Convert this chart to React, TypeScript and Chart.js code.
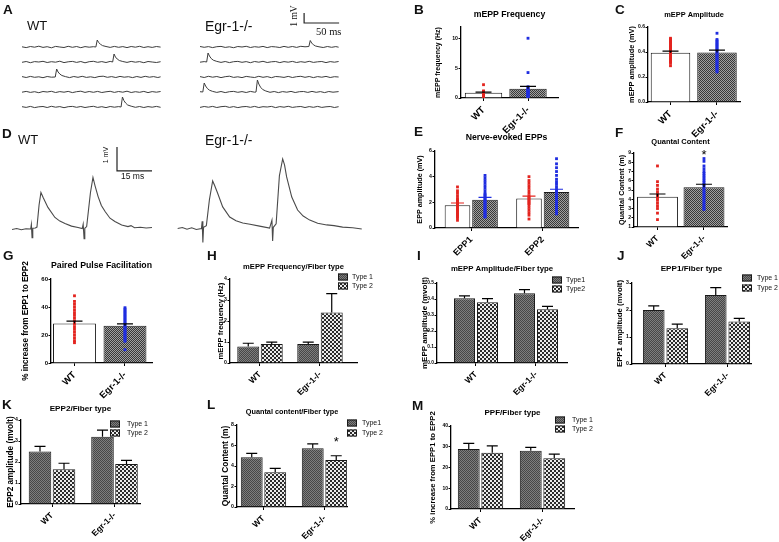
import React, { useEffect, useRef } from 'react';
import { Chart, registerables } from 'chart.js';

Chart.register(...registerables);

const SANS = "'Liberation Sans', Arial, Helvetica, sans-serif";
const SERIF = "'Liberation Serif', 'Times New Roman', serif";

// ======================= DATA =======================
const genotypes = ['WT', 'Egr-1-/-'];
const eppLabels = ['EPP1', 'EPP2'];
const legendTypeSpaced = ['Type 1', 'Type 2'];
const legendTypeCompact = ['Type1', 'Type2'];
const legendTypeMixed = ['Type1', 'Type 2'];

// ---- A: spontaneous mEPP traces (time ms, mV) ----
const aWT1: [number, number][] = [[0,0.02],[6,-0.06],[12,0.05],[18,-0.02],[24,0.08],[30,-0.04],[36,0.03],[42,-0.08],[48,0.06],[54,0.0],[60,-0.05],[66,0.07],[72,-0.03],[78,0.05],[84,-0.07],[90,0.04],[96,-0.02],[102,0.03],[105.5,0.0],[107.5,0.7],[109.5,0.45],[112,0.28],[115,0.14],[120,0.05],[126,-0.04],[132,0.06],[138,-0.03],[144,0.04],[150,-0.06],[156,0.05],[162,-0.02],[168,0.07],[174,-0.05],[180,0.03],[186,-0.04],[192,0.05],[198,-0.01]];
const aWT2: [number, number][] = [[0,-0.03],[6,0.05],[12,-0.07],[18,0.04],[24,0.0],[30,0.07],[36,-0.05],[42,0.03],[48,-0.02],[54,0.08],[60,-0.06],[66,0.02],[72,0.06],[78,-0.04],[84,0.05],[90,-0.08],[96,0.03],[102,0.07],[108,-0.03],[114,0.04],[120,-0.05],[126,0.06],[129.5,0.0],[131.5,0.8],[133.5,0.5],[136,0.3],[139,0.15],[144,0.05],[150,-0.04],[156,0.06],[162,-0.02],[168,0.04],[174,-0.07],[180,0.05],[186,0.0],[192,-0.05],[198,0.03]];
const aWT3: [number, number][] = [[0,0.04],[6,-0.05],[12,0.06],[18,-0.03],[24,0.02],[30,-0.07],[36,0.05],[42,-0.02],[47.5,0.0],[49.5,0.8],[51.5,0.5],[54,0.3],[57,0.15],[62,0.04],[68,-0.06],[74,0.05],[80,-0.03],[86,0.07],[92,-0.04],[98,0.02],[104,-0.06],[110,0.05],[116,0.08],[122,-0.03],[128,0.04],[134,-0.05],[140,0.06],[146,-0.02],[152,0.03],[158,-0.06],[164,0.05],[170,-0.04],[176,0.07],[182,-0.02],[188,0.04],[194,-0.05],[198,0.02]];
const aWT4: [number, number][] = [[0,-0.02],[6,0.06],[12,-0.04],[18,0.03],[24,-0.07],[30,0.05],[36,0.0],[42,0.07],[48,-0.05],[54,0.04],[60,-0.02],[66,0.06],[72,-0.06],[78,0.03],[84,0.08],[90,-0.04],[96,0.05],[102,-0.03],[108,0.06],[114,-0.05],[120,0.02],[126,0.07],[132,-0.04],[138,0.05],[144,-0.02],[150,0.08],[156,-0.05],[162,0.03],[168,-0.03],[174,0.06],[180,-0.06],[186,0.04],[192,-0.02],[198,0.05]];
const aWT5: [number, number][] = [[0,0.03],[6,-0.04],[12,0.06],[18,-0.06],[24,0.02],[30,0.05],[36,-0.05],[42,0.07],[48,-0.02],[54,0.04],[60,-0.07],[66,0.03],[72,0.06],[78,-0.03],[84,0.05],[90,-0.05],[96,0.02],[102,0.07],[108,-0.04],[114,0.03],[120,-0.06],[126,0.05],[132,-0.02],[138,0.04],[141.5,0.0],[143.5,1.0],[145.5,0.65],[148,0.4],[151,0.2],[156,0.08],[162,-0.03],[168,0.05],[174,-0.05],[180,0.04],[186,-0.02],[192,0.06],[198,-0.03]];
const aKO1: [number, number][] = [[0,0.05],[6,-0.03],[12,0.04],[18,-0.06],[24,0.03],[30,0.06],[36,-0.04],[42,0.02],[48,-0.07],[54,0.05],[60,0.0],[66,0.07],[72,-0.05],[78,0.03],[84,-0.02],[90,0.06],[96,-0.06],[102,0.04],[108,0.01],[114,-0.05],[120,0.06],[126,-0.03],[132,0.05],[138,-0.04],[144,0.07],[150,0.02],[155.5,0.05],[157.5,0.65],[159.5,0.4],[162,0.22],[165,0.1],[170,0.02],[176,-0.05],[182,0.05],[188,-0.03],[194,0.04],[198,-0.02]];
const aKO2: [number, number][] = [[0,-0.02],[6,0.04],[9.5,0.0],[11.5,0.9],[13.5,0.6],[16,0.35],[19,0.18],[24,0.06],[30,-0.04],[36,0.05],[42,-0.06],[48,0.03],[54,0.06],[60,-0.03],[66,0.04],[72,-0.07],[78,0.05],[84,-0.02],[90,0.07],[96,-0.05],[102,0.02],[108,0.05],[114,-0.06],[120,0.04],[126,-0.02],[132,0.06],[138,-0.05],[144,0.03],[150,-0.03],[156,0.07],[162,-0.04],[168,0.02],[174,0.05],[180,-0.06],[186,0.04],[192,-0.02],[198,0.05]];
const aKO3: [number, number][] = [[0,0.04],[6,-0.05],[12,0.07],[18,-0.02],[24,0.05],[30,-0.06],[36,0.03],[42,0.08],[48,-0.04],[54,0.02],[60,-0.06],[66,0.06],[72,0.0],[78,-0.05],[84,0.07],[90,-0.03],[96,0.04],[102,-0.07],[108,0.05],[114,0.02],[120,-0.04],[126,0.06],[132,-0.05],[138,0.03],[144,0.07],[150,-0.03],[156,0.05],[162,-0.06],[168,0.04],[174,-0.02],[180,0.06],[186,-0.05],[192,0.03],[198,0.0]];
const aKO4: [number, number][] = [[0,0.03],[4,0.0],[6,0.9],[8,0.6],[10.5,0.35],[13.5,0.18],[18,0.06],[24,-0.04],[30,0.05],[36,-0.06],[42,0.03],[48,0.06],[54,-0.03],[60,0.04],[66,-0.05],[72,0.06],[78,-0.02],[80,0.0],[82,1.2],[84,0.8],[86.5,0.48],[89.5,0.25],[94,0.1],[100,-0.03],[106,0.05],[112,-0.06],[118,0.04],[124,-0.02],[130,0.06],[136,-0.05],[142,0.03],[148,0.05],[154,-0.04],[160,0.06],[166,-0.03],[172,0.04],[178,-0.06],[184,0.05],[190,-0.02],[198,0.04]];
const aKO5: [number, number][] = [[0,-0.04],[6,0.05],[12,-0.02],[18,0.06],[24,-0.05],[30,0.03],[36,0.07],[42,-0.04],[48,0.04],[54,-0.06],[60,0.02],[66,0.05],[72,-0.03],[78,0.06],[84,-0.05],[90,0.03],[96,0.0],[102,0.06],[108,-0.06],[114,0.04],[120,-0.02],[126,0.07],[132,-0.04],[138,0.02],[144,0.05],[150,-0.05],[156,0.04],[162,-0.03],[168,0.06],[174,-0.04],[180,0.02],[186,0.05],[192,-0.05],[198,0.03]];
const scaleBarA = { ms: 50, mV: 1 };

// ---- D: nerve-evoked paired EPP traces (time ms, mV) ----
const dWT: [number, number][] = [[0,-0.02],[2,0.02],[4,-0.03],[6,0.01],[8,0],[8.3,0.19],[8.6,-0.36],[8.9,0.03],[10,0.04],[10.7,0.08],[11.6,1.0],[12.4,1.52],[13.4,1.3],[15.4,0.9],[18.4,0.48],[20.5,0.33],[22.7,0.23],[25.5,0.12],[28.3,0.06],[30.1,0.02],[30.5,0.2],[30.9,-0.4],[31.2,0.03],[32,0.1],[33.6,1.5],[34.7,2.15],[35.6,1.8],[36.9,1.35],[38.3,0.98],[39.9,0.73],[42,0.45],[44.1,0.31],[47,0.17],[49.7,0.1],[51,0.14],[52.5,0.05],[55,0.07],[57.5,0.04],[60,0.06]];
const dKO: [number, number][] = [[0,0],[2,0.04],[4,-0.03],[6,0.03],[8,-0.04],[10.2,0],[10.5,0.3],[10.8,-0.58],[11.1,0.05],[12.3,0.12],[13.6,1.2],[15,1.98],[15.8,1.8],[17.1,1.48],[19.3,0.9],[22.3,0.48],[25,0.32],[27.9,0.23],[31,0.18],[35.1,0.1],[39.4,0.02],[40.4,0.35],[40.7,-0.52],[41,0.05],[42.2,0.2],[43.6,2.2],[45,2.9],[45.8,2.65],[46.7,2.15],[48.9,1.31],[51.4,0.77],[53.8,0.52],[56.6,0.35],[60,0.22],[63.9,0.15],[67,0.12],[70.7,0.06],[75,0.03],[78.9,-0.02]];
const scaleBarD = { ms: 15, mV: 1 };

// ---- B: mEPP frequency (Hz) ----
const bMean = [0.9, 1.58];
const bSem = [0.1, 0.4];
const bPtsWT = [2.25, 1.2, 1.1, 1.0, 0.9, 0.8, 0.7, 0.6, 0.5, 0.4, 0.3, 0.2];
const bPtsKO = [10.1, 4.3, 1.9, 1.7, 1.55, 1.4, 1.3, 1.2, 1.1, 1.0, 0.9, 0.8, 0.7, 0.6, 0.5, 0.4, 0.3, 0.2, 0.1];

// ---- C: mEPP amplitude (mV) ----
const cMean = [0.394, 0.397];
const cSem = [0.013, 0.018];
const cPtsWT = [0.51, 0.5, 0.49, 0.48, 0.47, 0.46, 0.45, 0.44, 0.43, 0.42, 0.41, 0.4, 0.39, 0.38, 0.37, 0.36, 0.35, 0.34, 0.33, 0.32, 0.31, 0.29];
const cPtsKO = [0.55, 0.5, 0.49, 0.48, 0.47, 0.46, 0.45, 0.44, 0.43, 0.42, 0.41, 0.4, 0.39, 0.38, 0.37, 0.36, 0.35, 0.34, 0.33, 0.32, 0.31, 0.3, 0.29, 0.28, 0.27, 0.26, 0.25, 0.24];

// ---- E: nerve-evoked EPP amplitude (mV) ----
const eMeanWT = [1.78, 2.3];
const eSemWT = [0.17, 0.18];
const eMeanKO = [2.2, 2.8];
const eSemKO = [0.18, 0.22];
const ePtsWT1 = [3.2, 2.9, 2.7, 2.5, 2.3, 2.2, 2.1, 2.0, 1.9, 1.8, 1.7, 1.6, 1.5, 1.4, 1.3, 1.2, 1.1, 1.0, 0.9, 0.8, 0.6];
const ePtsKO1 = [4.1, 3.9, 3.7, 3.5, 3.3, 3.1, 2.9, 2.7, 2.6, 2.5, 2.4, 2.3, 2.2, 2.1, 2.0, 1.9, 1.8, 1.7, 1.6, 1.5, 1.4, 1.3, 1.2, 1.1, 1.0, 0.9, 0.85];
const ePtsWT2 = [4.0, 3.7, 3.5, 3.3, 3.1, 2.9, 2.7, 2.5, 2.4, 2.3, 2.2, 2.1, 2.0, 1.9, 1.8, 1.6, 1.4, 1.2, 1.0, 0.7];
const ePtsKO2 = [5.4, 5.0, 4.7, 4.4, 4.1, 3.8, 3.6, 3.4, 3.2, 3.0, 2.9, 2.8, 2.7, 2.6, 2.5, 2.4, 2.3, 2.2, 2.1, 2.0, 1.9, 1.8, 1.7, 1.6, 1.5, 1.4, 1.3, 1.2, 1.1];

// ---- F: quantal content (m) ----
const fMean = [4.28, 5.29];
const fSem = [0.29, 0.33];
const fPtsWT = [7.6, 5.9, 5.5, 5.1, 4.8, 4.5, 4.3, 4.1, 3.9, 3.6, 3.3, 3.0, 2.5, 1.8];
const fPtsKO = [8.4, 8.1, 7.6, 7.3, 7.0, 6.8, 6.6, 6.4, 6.2, 6.0, 5.8, 5.6, 5.4, 5.2, 5.0, 4.8, 4.6, 4.4, 4.2, 4.0, 3.8, 3.6, 3.4, 3.2, 3.0, 2.9];
const fSignificance = [{ group: 1, y: 9.1 }];

// ---- G: paired pulse facilitation (%) ----
const gMean = [28.3, 26.6];
const gSem = [1.6, 1.3];
const gPtsWT = [48, 44, 42, 40, 38, 36, 34, 32, 30, 28, 26, 24, 22, 20, 18, 16, 14.5];
const gPtsKO = [39.5, 38.5, 37.5, 36.5, 35.5, 34.5, 33.5, 32.5, 31.5, 30.5, 29.5, 28.5, 27.5, 26.5, 25.5, 24.5, 23.5, 22.5, 21.5, 20.5, 19.5, 18.5, 17.5, 16.5, 15.5, 9.5];

// ---- H-M: per fiber type ----
const hType1 = [0.78, 0.9];
const hType1Sem = [0.16, 0.09];
const hType2 = [0.9, 2.4];
const hType2Sem = [0.09, 0.9];

const iType1 = [0.404, 0.436];
const iType1Sem = [0.016, 0.022];
const iType2 = [0.379, 0.336];
const iType2Sem = [0.023, 0.018];

const jType1 = [2.0, 2.56];
const jType1Sem = [0.15, 0.27];
const jType2 = [1.32, 1.57];
const jType2Sem = [0.16, 0.12];

const kType1 = [2.5, 3.2];
const kType1Sem = [0.24, 0.32];
const kType2 = [1.65, 1.9];
const kType2Sem = [0.29, 0.18];

const lType1 = [4.85, 5.72];
const lType1Sem = [0.39, 0.43];
const lType2 = [3.38, 4.59];
const lType2Sem = [0.39, 0.41];
const lSignificance = [{ group: 1, series: 1, y: 6.7 }];

const mType1 = [28.9, 28.1];
const mType1Sem = [2.7, 1.6];
const mType2 = [27.1, 24.4];
const mType2Sem = [3.3, 2.0];

// ======================= STYLE HELPERS =======================
const RED = '#e3241f';
const BLUE = '#1f2de0';

function makePattern(kind: string): any {
  if (kind === 'white') return '#ffffff';
  const c = document.createElement('canvas');
  const ctx = c.getContext('2d')!;
  if (kind === 'type2') {
    c.width = 4; c.height = 4;
    ctx.fillStyle = '#ececec'; ctx.fillRect(0, 0, 4, 4);
    ctx.fillStyle = '#2b2b2b'; ctx.fillRect(0, 0, 2, 2); ctx.fillRect(2, 2, 2, 2);
  } else {
    const a = kind === 'egr' ? '#383838' : '#474747';
    const b = kind === 'egr' ? '#a0a0a0' : '#7e7e7e';
    c.width = 2; c.height = 2;
    ctx.fillStyle = b; ctx.fillRect(0, 0, 2, 2);
    ctx.fillStyle = a; ctx.fillRect(0, 0, 1, 1); ctx.fillRect(1, 1, 1, 1);
  }
  return ctx.createPattern(c, 'repeat');
}

type Box = { left: number; top: number; right: number; bottom: number };

interface Series { label: string; values: number[]; errs: number[]; fills: string[]; errColors?: string[] }
interface PointSet { series: number; group: number; color: string; values: number[] }
interface BarPanel {
  box: Box; area: { x0: number; x1: number; y0: number; y1: number };
  xMin: number; xMax: number; xLabels: string[]; xLabelSize: number;
  yMin: number; yMax: number; yStep: number; yDec: number; tickSize: number;
  title: string; titleSize: number; titleY: number;
  yTitle: string; yTitleSize: number; yTitleX: number;
  series: Series[]; catPct: number; barPct: number; capW: number;
  points?: PointSet[]; pointR?: number;
  legend?: { labels: string[]; x: number; ys: number[]; w: number; h: number; tx: number; size: number };
  stars?: { group: number; series?: number; y: number }[];
}

function buildBarChart(el: HTMLCanvasElement, p: BarPanel) {
  const ml = p.area.x0 - p.box.left;
  const mt = p.area.y0 - p.box.top;
  const mb = p.box.bottom - p.area.y1;
  const mr = p.box.right - p.area.x1;
  const tlh = p.titleSize * 1.2;
  const tTop = Math.max(0, p.titleY - p.box.top - tlh / 2);
  const tBottom = Math.max(0, mt - tTop - tlh);
  const ylh = p.yTitleSize * 1.2;
  const yPad = Math.max(0, p.yTitleX - p.box.left - ylh / 2);
  const n = p.series.length;
  const fills = p.series.map((s) => s.fills.map((f) => makePattern(f)));

  const datasets: any[] = p.series.map((s, si) => ({
    type: 'bar',
    label: s.label,
    data: s.values.map((v, i) => ({ x: i, y: v })),
    backgroundColor: fills[si],
    borderColor: '#1a1a1a',
    borderWidth: 1,
    categoryPercentage: p.catPct,
    barPercentage: p.barPct,
    base: p.yMin,
    order: 2,
  }));
  (p.points || []).forEach((ps) => {
    const off = n > 1 ? (p.catPct / n) * (ps.series - (n - 1) / 2) : 0;
    datasets.push({
      type: 'scatter',
      data: ps.values.map((v) => ({ x: ps.group + off, y: v })),
      pointStyle: 'rect',
      pointRadius: p.pointR || 2,
      pointBackgroundColor: ps.color,
      pointBorderWidth: 0,
      showLine: false,
      order: 0,
    });
  });

  const barAt = (chart: any, si: number, gi: number) => chart.getDatasetMeta(si).data[gi];

  const errPlugin = {
    id: 'errbars',
    afterDatasetsDraw(chart: any) {
      const ctx = chart.ctx;
      const ys = chart.scales.y;
      p.series.forEach((s, si) => {
        s.values.forEach((v, gi) => {
          const bar = barAt(chart, si, gi);
          if (!bar) return;
          const top = ys.getPixelForValue(v + s.errs[gi]);
          ctx.save();
          ctx.strokeStyle = (s.errColors && s.errColors[gi]) || '#000';
          ctx.lineWidth = 1.2;
          ctx.beginPath();
          ctx.moveTo(bar.x, bar.y);
          ctx.lineTo(bar.x, top);
          ctx.moveTo(bar.x - p.capW / 2, top);
          ctx.lineTo(bar.x + p.capW / 2, top);
          ctx.stroke();
          ctx.restore();
        });
      });
      (p.stars || []).forEach((st) => {
        const bar = barAt(chart, st.series || 0, st.group);
        if (!bar) return;
        const y = ys.getPixelForValue(st.y);
        ctx.save();
        ctx.fillStyle = '#000';
        ctx.font = `13px ${SANS}`;
        ctx.textAlign = 'center';
        ctx.textBaseline = 'alphabetic';
        ctx.fillText('*', bar.x, y + 7.4);
        ctx.restore();
      });
      if (p.legend) {
        const L = p.legend;
        p.series.forEach((s, si) => {
          const bx = L.x - p.box.left;
          const cy = L.ys[si] - p.box.top;
          ctx.save();
          ctx.fillStyle = fills[si][0];
          ctx.fillRect(bx, cy - L.h / 2, L.w, L.h);
          ctx.strokeStyle = '#1a1a1a';
          ctx.lineWidth = 1;
          ctx.strokeRect(bx + 0.5, cy - L.h / 2 + 0.5, L.w - 1, L.h - 1);
          ctx.fillStyle = '#111';
          ctx.font = `${L.size}px ${SANS}`;
          ctx.textAlign = 'left';
          ctx.textBaseline = 'middle';
          ctx.fillText(L.labels[si], L.tx - p.box.left, cy);
          ctx.restore();
        });
      }
    },
  };

  const tickFont = { family: SANS, size: p.tickSize, weight: 'bold' as const };
  return new Chart(el, {
    type: 'bar',
    data: { datasets },
    plugins: [errPlugin],
    options: {
      responsive: false,
      animation: false,
      events: [],
      layout: { padding: { left: 0, top: 0, right: mr, bottom: 0 } },
      plugins: {
        legend: { display: false },
        tooltip: { enabled: false },
        title: {
          display: true,
          text: p.title,
          color: '#000',
          fullSize: false,
          font: { family: SANS, size: p.titleSize, weight: 'bold', lineHeight: 1.2 },
          padding: { top: tTop, bottom: tBottom },
        },
      },
      scales: {
        x: {
          type: 'linear',
          offset: false,
          bounds: 'data',
          grace: 0,
          min: p.xMin,
          max: p.xMax,
          afterBuildTicks: (s: any) => { s.ticks = p.xLabels.map((_, i) => ({ value: i })); },
          afterFit: (s: any) => { s.height = mb; },
          ticks: {
            autoSkip: false,
            minRotation: 45,
            maxRotation: 45,
            padding: 3.5,
            color: '#000',
            font: { family: SANS, size: p.xLabelSize, weight: 'bold' },
            callback: (v: any) => p.xLabels[Math.round(Number(v))] ?? '',
          },
          grid: { display: true, offset: false, drawOnChartArea: false, drawTicks: true, tickLength: 3, color: '#000', lineWidth: 1 },
          border: { display: true, color: '#000', width: 1.3 },
        },
        y: {
          type: 'linear',
          min: p.yMin,
          max: p.yMax,
          afterFit: (s: any) => { s.width = ml; },
          ticks: {
            stepSize: p.yStep,
            includeBounds: false,
            padding: 0.5,
            color: '#000',
            font: tickFont,
            callback: (v: any) => Number(v).toFixed(p.yDec),
          },
          grid: { display: true, drawOnChartArea: false, drawTicks: true, tickLength: 2.5, color: '#000', lineWidth: 1 },
          border: { display: true, color: '#000', width: 1.3 },
          title: {
            display: true,
            text: p.yTitle,
            color: '#000',
            font: { family: SANS, size: p.yTitleSize, weight: 'bold', lineHeight: 1.2 },
            padding: { top: yPad, bottom: 0 },
          },
        },
      },
    } as any,
  });
}

interface TracePanel {
  box: Box; xMin: number; xMax: number; yMin: number; yMax: number;
  traces: { pts: [number, number][]; dx: number; dy: number }[];
  bar: { ms: number; mV: number; x: number; y: number };
  lineWidth: number; color: string;
}

function buildTraceChart(el: HTMLCanvasElement, t: TracePanel) {
  const datasets: any[] = t.traces.map((tr) => ({
    data: tr.pts.map(([x, y]) => ({ x: x + tr.dx, y: y + tr.dy })),
    showLine: true,
    borderColor: t.color,
    borderWidth: t.lineWidth,
    pointRadius: 0,
    tension: 0,
  }));
  datasets.push({
    data: [
      { x: t.bar.x, y: t.bar.y + t.bar.mV },
      { x: t.bar.x, y: t.bar.y },
      { x: t.bar.x + t.bar.ms, y: t.bar.y },
    ],
    showLine: true,
    borderColor: '#222',
    borderWidth: 1.2,
    pointRadius: 0,
    tension: 0,
  });
  return new Chart(el, {
    type: 'scatter',
    data: { datasets },
    options: {
      responsive: false,
      animation: false,
      events: [],
      layout: { padding: 0 },
      plugins: { legend: { display: false }, tooltip: { enabled: false } },
      scales: {
        x: { type: 'linear', display: false, min: t.xMin, max: t.xMax },
        y: { type: 'linear', display: false, min: t.yMin, max: t.yMax },
      },
    } as any,
  });
}

// ======================= PANEL LAYOUT =======================
const tracesA: TracePanel = {
  box: { left: 22, top: 5, right: 342, bottom: 125 },
  xMin: 0, xMax: 320 / 0.7, yMin: -12, yMax: 0,
  traces: [
    { pts: aWT1, dx: 0, dy: -4.2 }, { pts: aWT2, dx: 0, dy: -5.7 }, { pts: aWT3, dx: 0, dy: -7.2 },
    { pts: aWT4, dx: 0, dy: -8.7 }, { pts: aWT5, dx: 0, dy: -10.2 },
    { pts: aKO1, dx: 254.3, dy: -4.2 }, { pts: aKO2, dx: 254.3, dy: -5.7 }, { pts: aKO3, dx: 254.3, dy: -7.2 },
    { pts: aKO4, dx: 254.3, dy: -8.7 }, { pts: aKO5, dx: 254.3, dy: -10.2 },
  ],
  bar: { ...scaleBarA, x: 403, y: -1.8 },
  lineWidth: 1, color: '#3c3c3c',
};

const tracesD: TracePanel = {
  box: { left: 12, top: 140, right: 366, bottom: 250 },
  xMin: 0, xMax: 354 / (35 / 15), yMin: -0.875, yMax: -0.875 + 110 / 24,
  traces: [
    { pts: dWT, dx: 0, dy: 0 },
    { pts: dKO, dx: 71, dy: 0.02 },
  ],
  bar: { ...scaleBarD, x: 45, y: 2.42 },
  lineWidth: 1.1, color: '#4a4a4a',
};

const scatterSeries = (means: number[], sems: number[], errColors?: string[]): Series[] => [
  { label: 'mean', values: means, errs: sems, fills: ['white', 'egr'], errColors },
];
const typeSeries = (t1: number[], s1: number[], t2: number[], s2: number[]): Series[] => [
  { label: 'Type 1', values: t1, errs: s1, fills: ['type1', 'type1'] },
  { label: 'Type 2', values: t2, errs: s2, fills: ['type2', 'type2'] },
];

const barPanels: BarPanel[] = [
  { // B
    box: { left: 428, top: 8, right: 562, bottom: 134 }, area: { x0: 461, x1: 558, y0: 27, y1: 98 },
    xMin: -0.506, xMax: 1.674, xLabels: genotypes, xLabelSize: 9.5,
    yMin: 0, yMax: 12, yStep: 5, yDec: 0, tickSize: 5.2,
    title: 'mEPP Frequency', titleSize: 8.7, titleY: 15,
    yTitle: 'mEPP frequency (Hz)', yTitleSize: 7, yTitleX: 438,
    series: scatterSeries(bMean, bSem), catPct: 1, barPct: 0.84, capW: 16,
    points: [{ series: 0, group: 0, color: RED, values: bPtsWT }, { series: 0, group: 1, color: BLUE, values: bPtsKO }],
  },
  { // C
    box: { left: 624, top: 8, right: 746, bottom: 138 }, area: { x0: 648, x1: 740, y0: 27, y1: 102 },
    xMin: -0.484, xMax: 1.495, xLabels: genotypes, xLabelSize: 9.5,
    yMin: 0, yMax: 0.6, yStep: 0.2, yDec: 1, tickSize: 5,
    title: 'mEPP Amplitude', titleSize: 7.4, titleY: 15,
    yTitle: 'mEPP amplitude (mV)', yTitleSize: 7.4, yTitleX: 632,
    series: scatterSeries(cMean, cSem), catPct: 1, barPct: 0.85, capW: 16,
    points: [{ series: 0, group: 0, color: RED, values: cPtsWT }, { series: 0, group: 1, color: BLUE, values: cPtsKO }],
  },
  { // E
    box: { left: 412, top: 132, right: 582, bottom: 264 }, area: { x0: 435, x1: 578, y0: 151, y1: 228 },
    xMin: -0.507, xMax: 1.493, xLabels: eppLabels, xLabelSize: 9,
    yMin: 0, yMax: 6, yStep: 2, yDec: 0, tickSize: 5.2,
    title: 'Nerve-evoked EPPs', titleSize: 8.7, titleY: 138,
    yTitle: 'EPP amplitude (mV)', yTitleSize: 7.2, yTitleX: 420,
    series: [
      { label: 'WT', values: eMeanWT, errs: eSemWT, fills: ['white', 'white'], errColors: [RED, RED] },
      { label: 'Egr-1-/-', values: eMeanKO, errs: eSemKO, fills: ['egr', 'egr'], errColors: [BLUE, BLUE] },
    ],
    catPct: 0.77, barPct: 0.93, capW: 13,
    points: [
      { series: 0, group: 0, color: RED, values: ePtsWT1 }, { series: 1, group: 0, color: BLUE, values: ePtsKO1 },
      { series: 0, group: 1, color: RED, values: ePtsWT2 }, { series: 1, group: 1, color: BLUE, values: ePtsKO2 },
    ],
  },
  { // F
    box: { left: 614, top: 134, right: 732, bottom: 266 }, area: { x0: 634, x1: 727, y0: 153, y1: 227 },
    xMin: -0.505, xMax: 1.495, xLabels: genotypes, xLabelSize: 8.5,
    yMin: 1, yMax: 9, yStep: 1, yDec: 0, tickSize: 5,
    title: 'Quantal Content', titleSize: 7.5, titleY: 142,
    yTitle: 'Quantal Content (m)', yTitleSize: 7.3, yTitleX: 622,
    series: scatterSeries(fMean, fSem), catPct: 1, barPct: 0.88, capW: 16,
    points: [{ series: 0, group: 0, color: RED, values: fPtsWT }, { series: 0, group: 1, color: BLUE, values: fPtsKO }],
    stars: fSignificance,
  },
  { // G
    box: { left: 18, top: 259, right: 157, bottom: 406 }, area: { x0: 51, x1: 152, y0: 279, y1: 363 },
    xMin: -0.465, xMax: 1.535, xLabels: genotypes, xLabelSize: 9.5,
    yMin: 0, yMax: 60, yStep: 20, yDec: 0, tickSize: 6,
    title: 'Paired Pulse Facilitation', titleSize: 9, titleY: 266,
    yTitle: '% increase from EPP1 to EPP2', yTitleSize: 8.2, yTitleX: 26,
    series: scatterSeries(gMean, gSem), catPct: 1, barPct: 0.85, capW: 16,
    points: [{ series: 0, group: 0, color: RED, values: gPtsWT }, { series: 0, group: 1, color: BLUE, values: gPtsKO }],
  },
  { // H
    box: { left: 212, top: 259, right: 378, bottom: 406 }, area: { x0: 230, x1: 357, y0: 279, y1: 363 },
    xMin: -0.5, xMax: 1.617, xLabels: genotypes, xLabelSize: 8.5,
    yMin: 0, yMax: 4, yStep: 1, yDec: 0, tickSize: 5.2,
    title: 'mEPP Frequency/Fiber type', titleSize: 7.6, titleY: 267,
    yTitle: 'mEPP frequency (Hz)', yTitleSize: 7.6, yTitleX: 221,
    series: typeSeries(hType1, hType1Sem, hType2, hType2Sem), catPct: 0.783, barPct: 0.936, capW: 11,
    legend: { labels: legendTypeSpaced, x: 338, ys: [277, 286], w: 10, h: 7, tx: 352, size: 7 },
  },
  { // I
    box: { left: 418, top: 260, right: 600, bottom: 406 }, area: { x0: 437, x1: 567, y0: 283, y1: 363 },
    xMin: -0.65, xMax: 1.517, xLabels: genotypes, xLabelSize: 8.5,
    yMin: 0, yMax: 0.5, yStep: 0.1, yDec: 1, tickSize: 4.8,
    title: 'mEPP Amplitude/Fiber type', titleSize: 7.8, titleY: 269,
    yTitle: 'mEPP amplitude (mvolt)', yTitleSize: 8, yTitleX: 425,
    series: typeSeries(iType1, iType1Sem, iType2, iType2Sem), catPct: 0.767, barPct: 0.913, capW: 11,
    legend: { labels: legendTypeCompact, x: 552, ys: [280, 289], w: 10, h: 7, tx: 566, size: 7 },
  },
  { // J
    box: { left: 613, top: 260, right: 779, bottom: 406 }, area: { x0: 632, x1: 751, y0: 283, y1: 364 },
    xMin: -0.54, xMax: 1.379, xLabels: genotypes, xLabelSize: 8.5,
    yMin: 0, yMax: 3, yStep: 1, yDec: 0, tickSize: 5.2,
    title: 'EPP1/Fiber type', titleSize: 8.1, titleY: 269,
    yTitle: 'EPP1 amplitude (mvolt)', yTitleSize: 7.8, yTitleX: 620,
    series: typeSeries(jType1, jType1Sem, jType2, jType2Sem), catPct: 0.758, barPct: 0.92, capW: 11,
    legend: { labels: legendTypeSpaced, x: 742, ys: [278, 288], w: 10, h: 7, tx: 757, size: 7 },
  },
  { // K
    box: { left: 2, top: 400, right: 158, bottom: 542 }, area: { x0: 21, x1: 140, y0: 420, y1: 504 },
    xMin: -0.496, xMax: 1.408, xLabels: genotypes, xLabelSize: 8.5,
    yMin: 0, yMax: 4, yStep: 1, yDec: 0, tickSize: 5.2,
    title: 'EPP2/Fiber type', titleSize: 8.1, titleY: 409,
    yTitle: 'EPP2 amplitude (mvolt)', yTitleSize: 8.2, yTitleX: 10.5,
    series: typeSeries(kType1, kType1Sem, kType2, kType2Sem), catPct: 0.768, barPct: 0.94, capW: 11,
    legend: { labels: legendTypeSpaced, x: 110, ys: [424, 433], w: 10, h: 7, tx: 127, size: 7 },
  },
  { // L
    box: { left: 216, top: 402, right: 388, bottom: 542 }, area: { x0: 237, x1: 347, y0: 425, y1: 507 },
    xMin: -0.434, xMax: 1.369, xLabels: genotypes, xLabelSize: 8.5,
    yMin: 0, yMax: 8, yStep: 2, yDec: 0, tickSize: 5.2,
    title: 'Quantal content/Fiber type', titleSize: 7.3, titleY: 412,
    yTitle: 'Quantal Content (m)', yTitleSize: 8.4, yTitleX: 226,
    series: typeSeries(lType1, lType1Sem, lType2, lType2Sem), catPct: 0.77, barPct: 0.93, capW: 11,
    legend: { labels: legendTypeMixed, x: 347, ys: [423, 433], w: 10, h: 7, tx: 362, size: 7 },
    stars: lSignificance,
  },
  { // M
    box: { left: 426, top: 402, right: 620, bottom: 542 }, area: { x0: 451, x1: 574, y0: 426, y1: 509 },
    xMin: -0.476, xMax: 1.508, xLabels: genotypes, xLabelSize: 8.5,
    yMin: 0, yMax: 40, yStep: 10, yDec: 0, tickSize: 5,
    title: 'PPF/Fiber type', titleSize: 8, titleY: 413,
    yTitle: '% increase from EPP1 to EPP2', yTitleSize: 7.7, yTitleX: 433,
    series: typeSeries(mType1, mType1Sem, mType2, mType2Sem), catPct: 0.758, barPct: 0.93, capW: 11,
    legend: { labels: legendTypeSpaced, x: 555, ys: [420, 429], w: 10, h: 7, tx: 572, size: 7 },
  },
];

const panelLetters: { t: string; x: number; y: number }[] = [
  { t: 'A', x: 3, y: 5 }, { t: 'B', x: 414, y: 5 }, { t: 'C', x: 615, y: 5 },
  { t: 'D', x: 2, y: 129 }, { t: 'E', x: 414, y: 127 }, { t: 'F', x: 615, y: 128 },
  { t: 'G', x: 3, y: 251 }, { t: 'H', x: 207, y: 251 }, { t: 'I', x: 417, y: 251 }, { t: 'J', x: 617, y: 251 },
  { t: 'K', x: 2, y: 400 }, { t: 'L', x: 207, y: 400 }, { t: 'M', x: 412, y: 401 },
];

// ======================= COMPONENTS =======================
function ChartCanvas({ box, build }: { box: Box; build: (c: HTMLCanvasElement) => Chart }) {
  const ref = useRef<HTMLCanvasElement>(null);
  useEffect(() => {
    const ch = build(ref.current!);
    return () => ch.destroy();
  }, []);
  const w = box.right - box.left;
  const h = box.bottom - box.top;
  return (
    <canvas
      ref={ref}
      width={w}
      height={h}
      style={{ position: 'absolute', left: box.left, top: box.top, width: w, height: h, display: 'block' }}
    />
  );
}

function Label({ x, y, text, size, bold, family, rotate }: { x: number; y: number; text: string; size: number; bold?: boolean; family?: string; rotate?: boolean }) {
  const base: React.CSSProperties = {
    position: 'absolute',
    fontFamily: family || SANS,
    fontSize: size,
    fontWeight: bold ? 'bold' : 'normal',
    lineHeight: 1,
    whiteSpace: 'nowrap',
    color: '#111',
  };
  if (rotate) {
    return <div style={{ ...base, left: x, top: y, transform: 'translate(-50%, -50%) rotate(-90deg)' }}>{text}</div>;
  }
  return <div style={{ ...base, left: x, top: y - 0.13 * size }}>{text}</div>;
}

export default function App() {
  return (
    <div style={{ position: 'absolute', left: 0, top: 0, width: 779, height: 542, background: '#fff', overflow: 'hidden' }}>
      <ChartCanvas box={tracesA.box} build={(c) => buildTraceChart(c, tracesA)} />
      <ChartCanvas box={tracesD.box} build={(c) => buildTraceChart(c, tracesD)} />
      {barPanels.map((p, i) => (
        <ChartCanvas key={i} box={p.box} build={(c) => buildBarChart(c, p)} />
      ))}
      <Label x={27} y={21} text="WT" size={13} />
      <Label x={205} y={21} text="Egr-1-/-" size={14} />
      <Label x={18} y={135} text="WT" size={13} />
      <Label x={205} y={135} text="Egr-1-/-" size={14} />
      <Label x={295} y={16} text="1 mV" size={9.5} family={SERIF} rotate />
      <Label x={316} y={28} text="50 ms" size={10.5} family={SERIF} />
      <Label x={105} y={155} text="1 mV" size={7} rotate />
      <Label x={121} y={173} text="15 ms" size={8.5} />
      {panelLetters.map((l) => (
        <Label key={l.t} x={l.x} y={l.y} text={l.t} size={13.5} bold />
      ))}
    </div>
  );
}
